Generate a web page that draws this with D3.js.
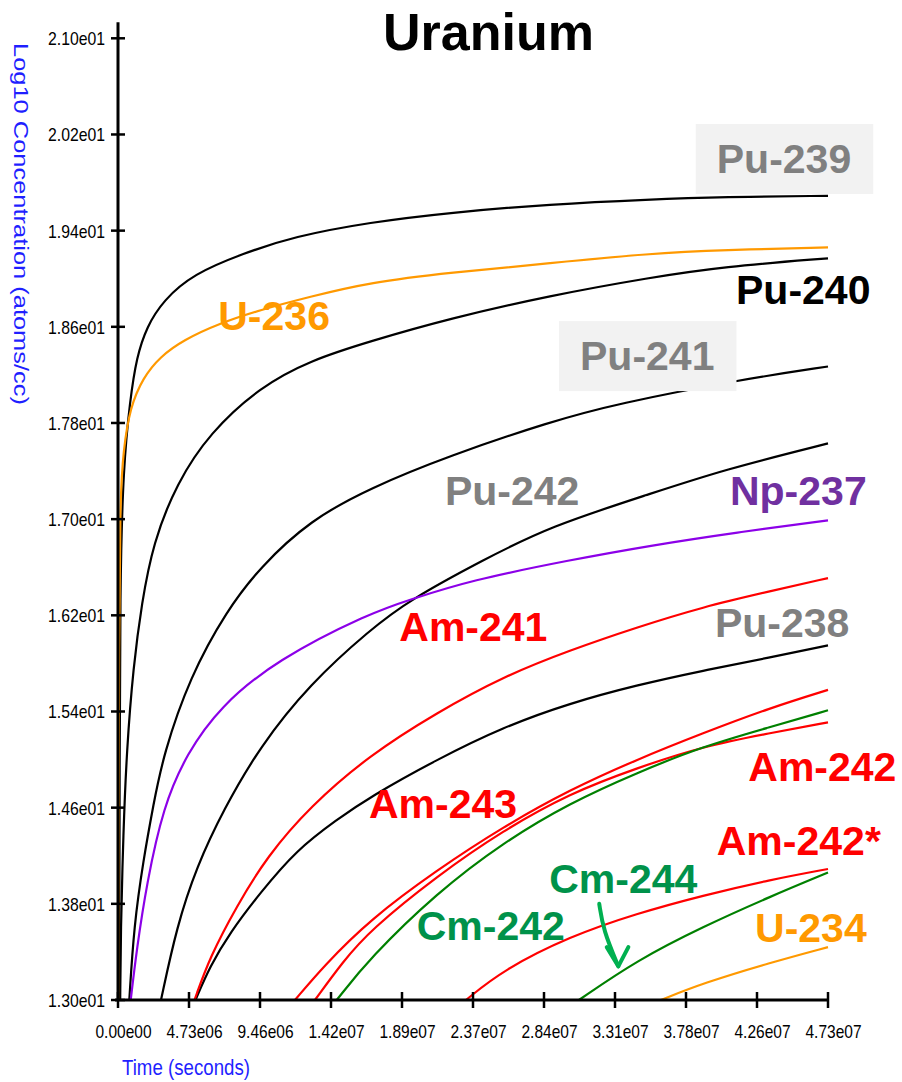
<!DOCTYPE html>
<html>
<head>
<meta charset="utf-8">
<script src="https://cdn.jsdelivr.net/npm/d3@7"></script>
<style>
  body { margin: 0; background: #fff; }
  text { font-family: "Liberation Sans", Arial, sans-serif; }
</style>
</head>
<body>
<svg id="chart" width="902" height="1082"></svg>
<script>
// time in units of 1e6 seconds, value = log10 concentration (atoms/cc)
const u236T  = [0.013, 0.04, 0.067, 0.133, 0.353, 0.799, 1.685, 2.798, 4.35, 6.795, 9.46, 12.79, 16.79, 22.12, 28.78, 35.44, 40.31, 47.3];
const u236V  = [13.0, 14.66, 15.91, 17.16, 17.57, 17.93, 18.18, 18.35, 18.49, 18.63, 18.74, 18.85, 18.97, 19.05, 19.13, 19.21, 19.24, 19.26];
const pu239T = [0.080, 0.107, 0.133, 0.353, 0.799, 1.246, 1.912, 3.018, 5.016, 8.347, 11.68, 16.79, 22.12, 28.78, 35.44, 40.31, 47.3];
const pu239V = [13.0, 14.66, 16.47, 17.43, 17.99, 18.35, 18.60, 18.82, 19.04, 19.21, 19.35, 19.47, 19.55, 19.62, 19.66, 19.68, 19.69];
const pu240T = [0.147, 0.180, 0.353, 0.580, 1.019, 1.579, 2.332, 3.911, 6.129, 9.46, 12.79, 16.79, 22.12, 28.78, 35.44, 40.31, 47.3];
const pu240V = [13.0, 13.56, 14.39, 15.08, 15.77, 16.30, 16.80, 17.30, 17.72, 18.10, 18.32, 18.48, 18.67, 18.86, 19.01, 19.10, 19.17];
const pu241T = [0.753, 1.066, 1.685, 2.352, 3.018, 4.797, 7.242, 9.46, 12.79, 16.79, 22.12, 28.78, 33.22, 41.44, 47.3];
const pu241V = [13.0, 13.62, 14.16, 14.62, 15.04, 15.69, 16.24, 16.60, 16.99, 17.26, 17.53, 17.81, 17.96, 18.16, 18.27];
const pu242T = [2.865, 3.911, 5.243, 7.015, 9.46, 12.79, 16.79, 19.45, 24.32, 28.78, 35.44, 40.31, 47.3];
const pu242V = [13.0, 13.61, 14.11, 14.58, 15.11, 15.63, 16.08, 16.33, 16.66, 16.94, 17.21, 17.41, 17.63];
const np237T = [0.846, 1.246, 1.912, 3.018, 4.577, 6.795, 10.57, 16.79, 19.45, 23.45, 30.11, 35.44, 41.22, 47.3];
const np237V = [13.0, 13.42, 13.97, 14.61, 15.05, 15.44, 15.83, 16.22, 16.33, 16.49, 16.66, 16.78, 16.89, 16.99];
const am241T = [5.096, 6.129, 7.908, 9.906, 12.79, 16.79, 21.23, 25.65, 30.11, 34.56, 38.97, 43.44, 47.3];
const am241V = [13.0, 13.36, 13.78, 14.19, 14.61, 15.04, 15.39, 15.69, 15.91, 16.10, 16.27, 16.40, 16.51];
const pu238T = [5.163, 6.129, 7.461, 9.46, 11.905, 14.57, 16.79, 21.23, 25.65, 30.11, 34.56, 38.97, 43.44, 47.3];
const pu238V = [13.0, 13.28, 13.56, 13.89, 14.25, 14.50, 14.69, 15.00, 15.27, 15.47, 15.62, 15.74, 15.85, 15.95];
const am243T = [11.79, 13.68, 16.79, 21.23, 25.65, 30.11, 34.56, 38.97, 43.44, 47.3];
const am243V = [13.0, 13.28, 13.67, 14.08, 14.44, 14.75, 15.00, 15.22, 15.43, 15.58];
const am242T = [13.12, 14.99, 16.79, 21.23, 25.65, 30.11, 34.56, 38.97, 43.44, 47.3];
const am242V = [13.0, 13.32, 13.58, 14.03, 14.41, 14.72, 14.93, 15.11, 15.22, 15.31];
const cm242T = [14.57, 16.79, 21.23, 25.65, 30.11, 34.56, 38.97, 43.44, 47.3];
const cm242V = [13.0, 13.35, 13.89, 14.31, 14.64, 14.89, 15.11, 15.27, 15.41];
const am242mT = [23.18, 25.65, 30.11, 34.56, 38.97, 43.44, 47.3];
const am242mV = [13.0, 13.25, 13.53, 13.72, 13.87, 14.00, 14.09];
const cm244T = [30.71, 34.56, 38.97, 43.44, 47.3];
const cm244V = [13.0, 13.33, 13.61, 13.86, 14.06];
const u234T  = [36.17, 38.97, 43.44, 47.3];
const u234V  = [13.0, 13.14, 13.31, 13.44];

const xTicks = [0, 4.73, 9.46, 14.19, 18.92, 23.65, 28.38, 33.11, 37.84, 42.57, 47.3];
const xTickLabels = ["0.00e00", "4.73e06", "9.46e06", "1.42e07", "1.89e07", "2.37e07", "2.84e07", "3.31e07", "3.78e07", "4.26e07", "4.73e07"];
const yTicks = [13.0, 13.8, 14.6, 15.4, 16.2, 17.0, 17.8, 18.6, 19.4, 20.2, 21.0];
const yTickLabels = ["1.30e01", "1.38e01", "1.46e01", "1.54e01", "1.62e01", "1.70e01", "1.78e01", "1.86e01", "1.94e01", "2.02e01", "2.10e01"];

// annotation labels, anchored at (time, value) of the text baseline start
const labelNames = ["Pu-239", "Pu-240", "U-236", "Pu-241", "Pu-242", "Np-237", "Am-241", "Pu-238", "Am-243", "Am-242", "Am-242*", "Cm-244", "Cm-242", "U-234"];
const labelT = [39.89, 41.17, 6.68, 30.78, 21.78, 40.77, 18.74, 39.77, 16.72, 41.99, 39.89, 28.73, 19.90, 42.44];
const labelV = [19.88, 18.79, 18.57, 18.24, 17.12, 17.12, 15.99, 16.02, 14.51, 14.82, 14.21, 13.89, 13.50, 13.48];
// arrow pointing at Cm-244
const arrowT = [32.06, 32.33, 33.33];
const arrowV = [13.80, 13.58, 13.28];
const arrowHeadT = [32.56, 33.33, 34.0];
const arrowHeadV = [13.44, 13.28, 13.44];

const series = [
  {name: "Pu-239", t: pu239T, v: pu239V, color: "#000000"},
  {name: "Pu-240", t: pu240T, v: pu240V, color: "#000000"},
  {name: "Pu-241", t: pu241T, v: pu241V, color: "#000000"},
  {name: "Pu-242", t: pu242T, v: pu242V, color: "#000000"},
  {name: "Pu-238", t: pu238T, v: pu238V, color: "#000000"},
  {name: "Np-237", t: np237T, v: np237V, color: "#8c00e8"},
  {name: "Am-241", t: am241T, v: am241V, color: "#ff0000"},
  {name: "Am-243", t: am243T, v: am243V, color: "#ff0000"},
  {name: "Am-242", t: am242T, v: am242V, color: "#ff0000"},
  {name: "Cm-242", t: cm242T, v: cm242V, color: "#008000"},
  {name: "Am-242*", t: am242mT, v: am242mV, color: "#ff0000"},
  {name: "Cm-244", t: cm244T, v: cm244V, color: "#008000"},
  {name: "U-234", t: u234T, v: u234V, color: "#ff9900"},
  {name: "U-236", t: u236T, v: u236V, color: "#ff9900"}
];

const labelColors = {
  "Pu-239": "#808080", "Pu-240": "#000000", "U-236": "#ff9900", "Pu-241": "#808080",
  "Pu-242": "#808080", "Np-237": "#7030a0", "Am-241": "#ff0000", "Pu-238": "#808080",
  "Am-243": "#ff0000", "Am-242": "#ff0000", "Am-242*": "#ff0000", "Cm-244": "#00924a",
  "Cm-242": "#00924a", "U-234": "#ff9900"
};
const boxed = ["Pu-239", "Pu-241"];

const svg = d3.select('#chart');
svg.append('rect').attr('width', 902).attr('height', 1082).attr('fill', '#fff');

const xScale = d3.scaleLinear().domain([0, 47.3]).range([118, 828]);
const yScale = d3.scaleLinear().domain([13, 21]).range([1000, 38.3]);

// curves (basis smooths out the hand-read points)
const line = d3.line()
  .x(d => xScale(d[0]))
  .y(d => yScale(d[1]))
  .curve(d3.curveBasis);

svg.append('g')
  .selectAll('path')
  .data(series)
  .join('path')
  .attr('d', s => line(s.t.map((t, i) => [t, s.v[i]])))
  .attr('fill', 'none')
  .attr('stroke', s => s.color)
  .attr('stroke-width', 2.2);

// axes
const axis = svg.append('g').attr('stroke', '#000').attr('stroke-width', 3);
axis.append('line')
  .attr('x1', xScale(0)).attr('x2', xScale(0))
  .attr('y1', yScale(21) - 16).attr('y2', yScale(13) + 1);
axis.append('line')
  .attr('x1', xScale(0) - 3).attr('x2', xScale(47.3) + 1)
  .attr('y1', yScale(13)).attr('y2', yScale(13));

axis.selectAll('.yt')
  .data(yTicks)
  .join('line')
  .attr('x1', xScale(0) - 7).attr('x2', xScale(0) + 7)
  .attr('y1', d => yScale(d)).attr('y2', d => yScale(d))
  .attr('stroke-width', 2.5);
axis.selectAll('.xt')
  .data(xTicks)
  .join('line')
  .attr('x1', d => xScale(d)).attr('x2', d => xScale(d))
  .attr('y1', yScale(13) - 8).attr('y2', yScale(13) + 8)
  .attr('stroke-width', 2.5);

svg.append('g')
  .selectAll('text')
  .data(yTicks)
  .join('text')
  .attr('x', xScale(0) - 70)
  .attr('y', d => yScale(d) + 7)
  .attr('textLength', 57)
  .attr('lengthAdjust', 'spacingAndGlyphs')
  .style('font-size', '19px')
  .attr('fill', '#000')
  .text((d, i) => yTickLabels[i]);

svg.append('g')
  .selectAll('text')
  .data(xTicks)
  .join('text')
  .attr('x', d => xScale(d) + 5.5 - 28)
  .attr('y', yScale(13) + 38)
  .attr('textLength', 56)
  .attr('lengthAdjust', 'spacingAndGlyphs')
  .style('font-size', '19px')
  .attr('fill', '#000')
  .text((d, i) => xTickLabels[i]);

// axis titles
svg.append('text')
  .attr('transform', 'translate(14,43) rotate(90)')
  .attr('textLength', 362)
  .attr('lengthAdjust', 'spacingAndGlyphs')
  .style('font-size', '21px')
  .attr('fill', '#1f1fff')
  .text('Log10 Concentration (atoms/cc)');

svg.append('text')
  .attr('x', 122)
  .attr('y', 1075)
  .attr('textLength', 128)
  .attr('lengthAdjust', 'spacingAndGlyphs')
  .style('font-size', '22px')
  .attr('fill', '#1f1fff')
  .text('Time (seconds)');

// title
svg.append('text')
  .attr('x', 383)
  .attr('y', 50)
  .style('font-size', '52px')
  .style('font-weight', 'bold')
  .attr('fill', '#000')
  .text('Uranium');

// annotation labels
const labels = svg.append('g');
labelNames.forEach((name, i) => {
  const g = labels.append('g');
  const txt = g.append('text')
    .attr('x', xScale(labelT[i]))
    .attr('y', yScale(labelV[i]))
    .style('font-size', '41px')
    .style('font-weight', 'bold')
    .attr('fill', labelColors[name])
    .text(name);
  if (boxed.includes(name)) {
    const bb = txt.node().getBBox();
    g.insert('rect', 'text')
      .attr('x', bb.x - 21)
      .attr('y', bb.y - 12)
      .attr('width', bb.width + 43)
      .attr('height', bb.height + 24)
      .attr('fill', '#f2f2f2');
  }
});

// arrow
const arrowLine = d3.line()
  .x(d => xScale(d[0]))
  .y(d => yScale(d[1]))
  .curve(d3.curveBasis);
svg.append('path')
  .attr('d', arrowLine(arrowT.map((t, i) => [t, arrowV[i]])))
  .attr('fill', 'none')
  .attr('stroke', '#00b050')
  .attr('stroke-width', 4)
  .attr('stroke-linecap', 'round');
svg.append('path')
  .attr('d', d3.line().x(d => xScale(d[0])).y(d => yScale(d[1]))(arrowHeadT.map((t, i) => [t, arrowHeadV[i]])))
  .attr('fill', 'none')
  .attr('stroke', '#00b050')
  .attr('stroke-width', 4)
  .attr('stroke-linecap', 'round')
  .attr('stroke-linejoin', 'round');
</script>
</body>
</html>
